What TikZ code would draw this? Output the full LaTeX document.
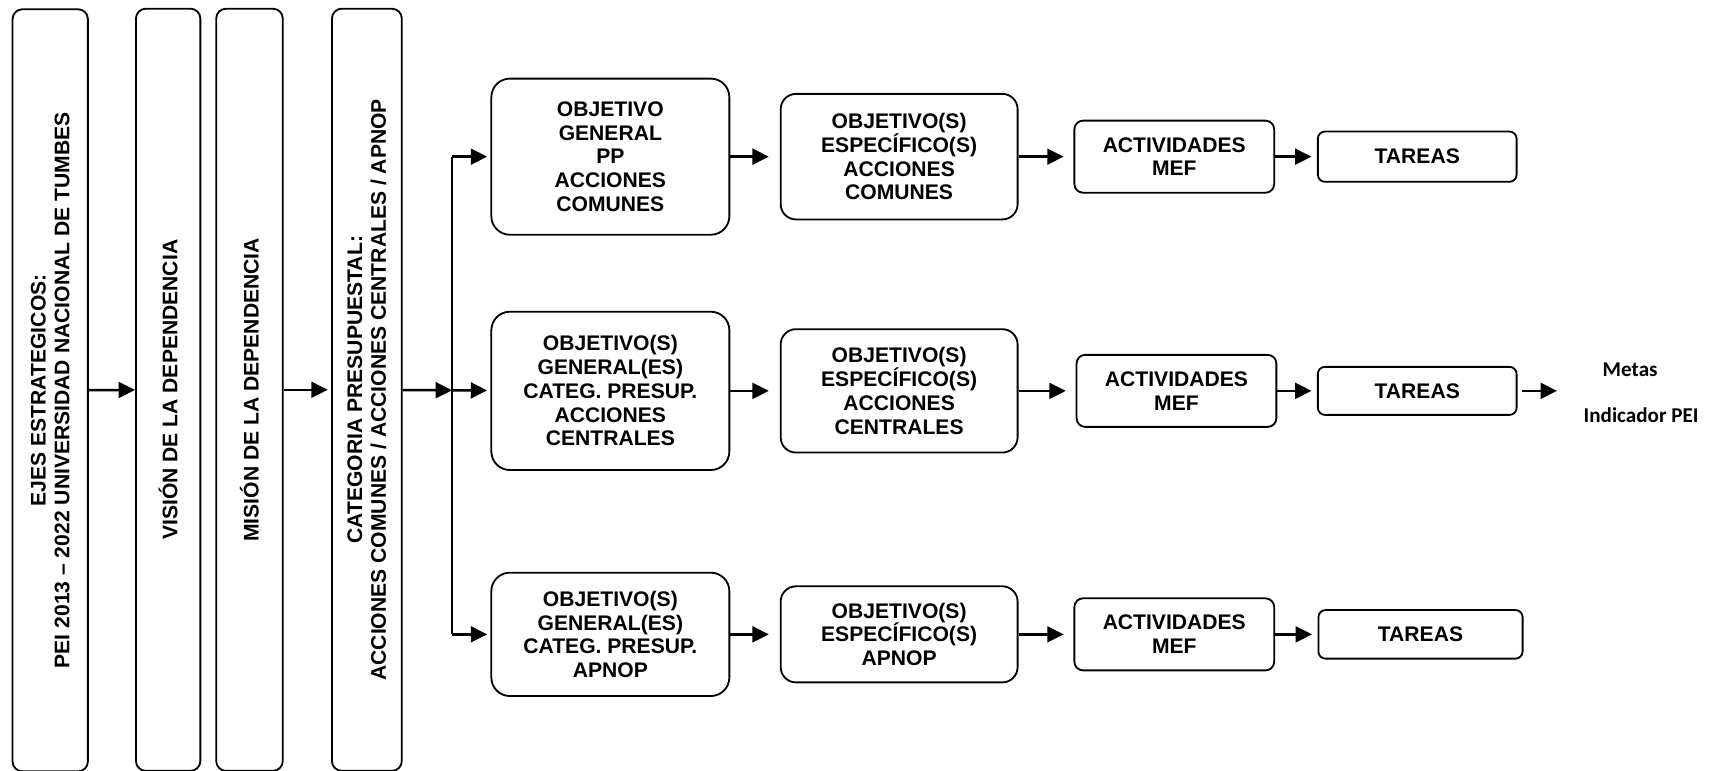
\documentclass[tikz,border=0pt]{standalone}
\usepackage{fontspec}
\setmainfont{Liberation Sans}
\newfontfamily\calibri{Carlito}
\usepackage{tikz}
\usetikzlibrary{positioning,arrows.meta}
\tikzstyle{caja}= [draw, line width=0.95pt, align=center, inner sep=0pt, font=\bfseries\fontsize{11}{12.4}\selectfont]
\tikzstyle{eje}= [caja, rotate=90, rounded corners=0.18cm, minimum width=13.96cm]
\tikzstyle{flecha}= [-{Triangle[length=0.3cm,width=0.29cm]}, line width=1.3pt]
\tikzstyle{nota}= [font=\calibri\bfseries\fontsize{11}{13}\selectfont]

\begin{document}
\begin{tikzpicture}
				\useasboundingbox (0, 0) rectangle (31.36, 14.12);
				\node[eje, minimum height=1.38cm] (ejes) at (0.92, 6.97) {EJES ESTRATEGICOS:\\PEI 2013 – 2022 UNIVERSIDAD NACIONAL DE TUMBES};
				\node[eje, minimum height=1.18cm] (vision) at (3.08, 6.98) {VISIÓN DE LA DEPENDENCIA};
				\node[eje, minimum height=1.22cm] (mision) at (4.57, 6.98) {MISIÓN DE LA DEPENDENCIA};
				\node[eje, minimum height=1.28cm] (categ) at (6.72, 6.98) {CATEGORIA PRESUPUESTAL:\\ACCIONES COMUNES / ACCIONES CENTRALES / APNOP};
				\coordinate (rama) at (8.28, 6.97);
				\coordinate (rama1) at (8.28, 11.25);
				\coordinate (rama3) at (8.28, 2.5);
				\node[caja, rounded corners=0.34cm, minimum width=4.36cm, minimum height=2.86cm] (og1) at (11.18, 11.25) {OBJETIVO\\GENERAL\\PP\\ACCIONES\\COMUNES};
				\node[caja, rounded corners=0.34cm, minimum width=4.36cm, minimum height=2.9cm] (og2) at (11.18, 6.96) {OBJETIVO(S)\\GENERAL(ES)\\CATEG. PRESUP.\\ACCIONES\\CENTRALES};
				\node[caja, rounded corners=0.34cm, minimum width=4.36cm, minimum height=2.26cm] (og3) at (11.18, 2.5) {OBJETIVO(S)\\GENERAL(ES)\\CATEG. PRESUP.\\APNOP};
				\node[caja, rounded corners=0.28cm, minimum width=4.34cm, minimum height=2.3cm] (oe1) at (16.47, 11.25) {OBJETIVO(S)\\ESPECÍFICO(S)\\ACCIONES\\COMUNES};
				\node[caja, rounded corners=0.28cm, minimum width=4.34cm, minimum height=2.26cm] (oe2) at (16.47, 6.96) {OBJETIVO(S)\\ESPECÍFICO(S)\\ACCIONES\\CENTRALES};
				\node[caja, rounded corners=0.28cm, minimum width=4.34cm, minimum height=1.76cm] (oe3) at (16.47, 2.5) {OBJETIVO(S)\\ESPECÍFICO(S)\\APNOP};
				\node[caja, rounded corners=0.16cm, minimum width=3.66cm, minimum height=1.32cm] (act1) at (21.51, 11.25) {ACTIVIDADES\\MEF};
				\node[caja, rounded corners=0.16cm, minimum width=3.66cm, minimum height=1.32cm] (act2) at (21.55, 6.96) {ACTIVIDADES\\MEF};
				\node[caja, rounded corners=0.16cm, minimum width=3.66cm, minimum height=1.32cm] (act3) at (21.51, 2.5) {ACTIVIDADES\\MEF};
				\node[caja, rounded corners=0.13cm, minimum width=3.64cm, minimum height=0.92cm] (tar1) at (25.96, 11.25) {TAREAS};
				\node[caja, rounded corners=0.13cm, minimum width=3.64cm, minimum height=0.88cm] (tar2) at (25.96, 6.96) {TAREAS};
				\node[caja, rounded corners=0.13cm, minimum width=3.74cm, minimum height=0.89cm] (tar3) at (26.02, 2.5) {TAREAS};
				\coordinate (fin) at (28.52, 6.96);
				\node[nota] (metas) at (29.86, 7.34) {Metas};
				\node[nota] (indic) at (30.06, 6.52) {Indicador PEI};
				\draw[flecha] (ejes) -- (vision);
				\draw[flecha, shorten >=0.06cm] (mision) -- (categ);
				\draw[flecha] (categ) -- (rama);
				\draw[line width=1.3pt] (rama1) -- (rama3);
				\draw[flecha, shorten >=0.06cm] (rama1) -- (og1);
				\draw[flecha, shorten >=0.06cm] (rama) -- (og2);
				\draw[flecha, shorten >=0.06cm] (rama3) -- (og3);
				\draw[flecha, shorten >=0.2cm] (og1) -- (oe1);
				\draw[flecha, shorten >=0.2cm] (og2) -- (oe2);
				\draw[flecha, shorten >=0.2cm] (og3) -- (oe3);
				\draw[flecha, shorten >=0.18cm] (oe1) -- (act1);
				\draw[flecha, shorten >=0.18cm] (oe2) -- (act2);
				\draw[flecha, shorten >=0.18cm] (oe3) -- (act3);
				\draw[flecha, shorten >=0.1cm] (act1) -- (tar1);
				\draw[flecha, shorten >=0.1cm] (act2) -- (tar2);
				\draw[flecha, shorten >=0.1cm] (act3) -- (tar3);
				\draw[flecha, shorten <=0.08cm] (tar2) -- (fin);
			\end{tikzpicture}
\end{document}
